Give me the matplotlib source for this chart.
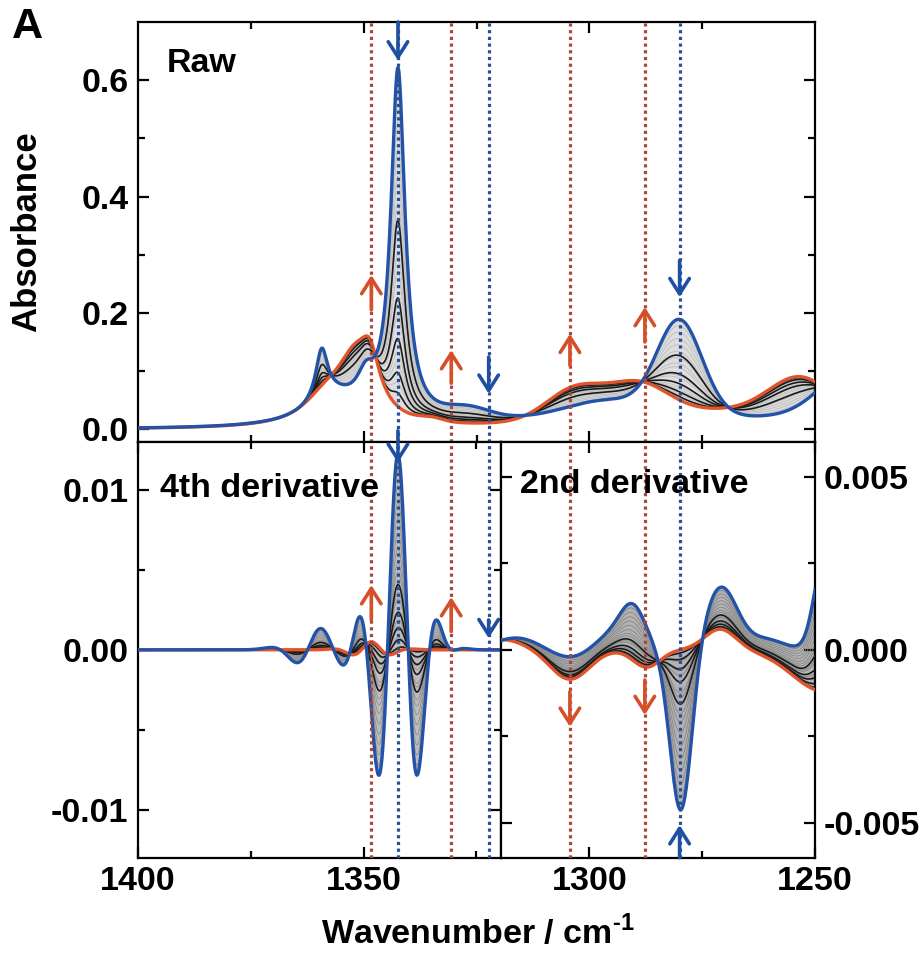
import numpy as np
import matplotlib.pyplot as plt

plt.rcParams['font.family'] = ['Liberation Sans', 'DejaVu Sans']
plt.rcParams['font.weight'] = 'bold'
plt.rcParams['axes.unicode_minus'] = False
plt.rcParams['mathtext.fontset'] = 'custom'
plt.rcParams['mathtext.rm'] = 'Liberation Sans:bold'
plt.rcParams['mathtext.bf'] = 'Liberation Sans:bold'

# raw bands: (centre / cm-1, width / cm-1, height)
raw_blue_lor = [(1342.4, 1.9, 0.60), (1359.3, 1.6, 0.085), (1357.0, 7.0, 0.045), (1349.5, 2.5, 0.05)]
raw_blue_gau = [(1327.0, 5.0, 0.018), (1280.0, 5.0, 0.16), (1296.0, 9.0, 0.028),
                (1240.0, 8.0, 0.10), (1280.0, 40.0, 0.022)]
raw_red_lor = [(1348.6, 2.6, 0.075), (1352.0, 5.0, 0.10), (1358.5, 6.0, 0.04)]
raw_red_gau = [(1335.0, 2.5, 0.006), (1303.0, 6.5, 0.055), (1289.0, 6.5, 0.055),
               (1253.0, 7.0, 0.07), (1270.0, 12.0, 0.012), (1275.0, 30.0, 0.02)]

# 4th derivative bands (centre, sigma, value at centre)
d4_blue = [(1342.4, 3.1, 0.0121), (1359.6, 3.8, 0.0013), (1350.5, 2.5, 0.0008), (1334.5, 2.5, 0.0006)]
d4_red = [(1348.3, 3.0, 0.0005)]

# 2nd derivative extrema (centre, width, value)
d2_blue = [(1316.0, 5.0, 0.00035), (1304.0, 4.5, -0.00025), (1295.0, 4.0, 0.00045),
           (1290.3, 2.8, 0.0011), (1279.7, 2.4, -0.0047), (1270.8, 3.6, 0.0018),
           (1261.0, 4.0, 0.0003), (1248.0, 2.2, 0.0026)]
d2_red = [(1319.5, 5.0, 0.0003), (1304.3, 4.3, -0.00085), (1287.3, 3.0, -0.0005),
          (1271.0, 3.5, 0.0006), (1248.0, 7.0, -0.0012)]

# fraction of the start (blue) spectrum in the intermediate spectra
fracs_black_raw = [0.55, 0.32, 0.2, 0.1, 0.04]
fracs_black_der = [0.34, 0.2, 0.12, 0.06, 0.02]
fracs_grey = [0.92, 0.84, 0.76, 0.68, 0.6, 0.52, 0.45, 0.4, 0.3, 0.27, 0.16, 0.13, 0.07]

# marker lines and arrows (x, tail, head, colour)
lines_red = [1348.3, 1330.6, 1304.3, 1287.7]
lines_blue = [1342.4, 1322.3, 1280.0]
arrows_raw = [(1342.4, 0.70, 0.634, 'b'), (1348.3, 0.205, 0.265, 'r'), (1330.6, 0.079, 0.136, 'r'),
              (1322.3, 0.124, 0.061, 'b'), (1304.3, 0.110, 0.164, 'r'), (1287.7, 0.150, 0.210, 'r'),
              (1280.0, 0.29, 0.227, 'b')]
arrows_d4 = [(1342.4, 0.0137, 0.0117, 'b'), (1348.3, 0.00187, 0.00405, 'r'),
             (1330.6, 0.00114, 0.0033, 'r'), (1322.3, 0.00187, 0.00073, 'b')]
arrows_d2 = [(1304.3, -0.00121, -0.00222, 'r'), (1287.7, -0.00087, -0.00188, 'r'),
             (1280.0, -0.0060, -0.00506, 'b')]

BLUE = '#2353a8'
RED = '#e0552b'
ARROW = {'b': '#1f4fa3', 'r': '#d5502a'}
DOT = {'b': '#2c4f94', 'r': '#a8473c'}

wn = np.linspace(1400, 1250, 3001)


def lor(c, w, h):
    return h / (1 + ((wn - c) / w) ** 2)


def gau(c, s, h):
    return h * np.exp(-0.5 * ((wn - c) / s) ** 2)


def d4(c, s, a):
    u = (wn - c) / s
    return a * (u ** 4 - 6 * u ** 2 + 3) * np.exp(-u ** 2 / 2) / 3


raw_blue = sum(lor(*b) for b in raw_blue_lor) + sum(gau(*b) for b in raw_blue_gau)
raw_red = sum(lor(*b) for b in raw_red_lor) + sum(gau(*b) for b in raw_red_gau)
d4b = sum(d4(*b) for b in d4_blue)
d4r = sum(d4(*b) for b in d4_red)
d2b = sum(gau(*b) for b in d2_blue)
d2r = sum(gau(*b) for b in d2_red)

fig = plt.figure(figsize=(9.24, 9.56), dpi=100)
ax_raw = fig.add_axes([0.14935, 0.53766, 0.7327, 0.43933])
ax_d4 = fig.add_axes([0.14935, 0.10282, 0.39286, 0.43483])
ax_d2 = fig.add_axes([0.54221, 0.10282, 0.33983, 0.43483])

x_split = 1319.56


def draw_set(ax, blue, red, fracs_black, fill_col, grey_col):
    ax.fill_between(wn, blue, red, color=fill_col, lw=0, zorder=1)
    for f in fracs_grey:
        ax.plot(wn, f * blue + (1 - f) * red, color=grey_col, lw=0.6, zorder=2)
    for f in fracs_black:
        ax.plot(wn, f * blue + (1 - f) * red, color='#1a1a1a', lw=1.2, zorder=3)
    ax.plot(wn, red, color=RED, lw=2.4, zorder=4)
    ax.plot(wn, blue, color=BLUE, lw=2.4, zorder=5)


def markers(ax, arrows):
    for x in lines_red:
        ax.axvline(x, color=DOT['r'], lw=2.3, ls=(0, (1, 1.1)), zorder=6)
    for x in lines_blue:
        ax.axvline(x, color=DOT['b'], lw=2.3, ls=(0, (1, 1.1)), zorder=6)
    for x, y0, y1, c in arrows:
        ax.annotate('', xy=(x, y1), xytext=(x, y0), annotation_clip=False, zorder=7,
                    arrowprops=dict(arrowstyle='->,head_length=0.55,head_width=0.35', lw=2.6,
                                    color=ARROW[c], shrinkA=0, shrinkB=0, mutation_scale=20))


def style(ax):
    for s in ax.spines.values():
        s.set_linewidth(1.6)
    ax.tick_params(which='both', direction='in', top=True, right=True, width=1.6, labelsize=24.5)
    ax.tick_params(which='major', length=8)
    ax.tick_params(which='minor', length=5)
    ax.tick_params(axis='y', pad=7)
    ax.tick_params(axis='x', pad=6)


draw_set(ax_raw, raw_blue, raw_red, fracs_black_raw, '#dedede', '#bdbdbd')
draw_set(ax_d4, d4b, d4r, fracs_black_der, '#bdbdbd', '#8f8f8f')
draw_set(ax_d2, d2b, d2r, fracs_black_der, '#b3b3b3', '#868686')
markers(ax_raw, arrows_raw)
markers(ax_d4, arrows_d4)
markers(ax_d2, arrows_d2)

ax_raw.set_xlim(1400, 1250)
ax_raw.set_ylim(-0.022, 0.70)
ax_raw.set_xticks([1350, 1300])
ax_raw.set_xticks([1375, 1325, 1275], minor=True)
ax_raw.set_xticklabels([])
ax_raw.set_yticks([0.0, 0.2, 0.4, 0.6])
ax_raw.set_yticklabels(['0.0', '0.2', '0.4', '0.6'])
ax_raw.set_yticks([0.1, 0.3, 0.5], minor=True)
style(ax_raw)

ax_d4.set_xlim(1400, x_split)
ax_d4.set_ylim(-0.013, 0.013)
ax_d4.set_xticks([1400, 1350])
ax_d4.set_xticklabels(['1400', '1350'])
ax_d4.set_xticks([1375, 1325], minor=True)
ax_d4.set_yticks([-0.01, 0.0, 0.01])
ax_d4.set_yticklabels(['-0.01', '0.00', '0.01'])
ax_d4.set_yticks([-0.005, 0.005], minor=True)
style(ax_d4)

ax_d2.set_xlim(x_split, 1250)
ax_d2.set_ylim(-0.006, 0.006)
ax_d2.set_xticks([1300, 1250])
ax_d2.set_xticklabels(['1300', '1250'])
ax_d2.set_xticks([1275], minor=True)
ax_d2.set_yticks([-0.005, 0.0, 0.005])
ax_d2.set_yticklabels(['-0.005', '0.000', '0.005'])
ax_d2.set_yticks([-0.0025, 0.0025], minor=True)
style(ax_d2)
ax_d2.tick_params(axis='y', labelleft=False, labelright=True, pad=6)

fig.text(167 / 924, 1 - 72 / 956, 'Raw', fontsize=24.5, va='baseline', zorder=10)
fig.text(160 / 924, 1 - 497 / 956, '4th derivative', fontsize=24.5, va='baseline', zorder=10)
fig.text(520 / 924, 1 - 493 / 956, '2nd derivative', fontsize=24.5, va='baseline', zorder=10)
fig.text(12 / 924, 1 - 27 / 956, 'A', fontsize=31, va='center', ha='left')
fig.text(27 / 924, 1 - 232 / 956, 'Absorbance', fontsize=25, rotation=90, va='center', ha='center')
fig.text(478 / 924, 1 - 933 / 956, r'Wavenumber / cm$^{\text{-1}}$', fontsize=24.5, va='center', ha='center')

fig.savefig('out.png', dpi=100)
